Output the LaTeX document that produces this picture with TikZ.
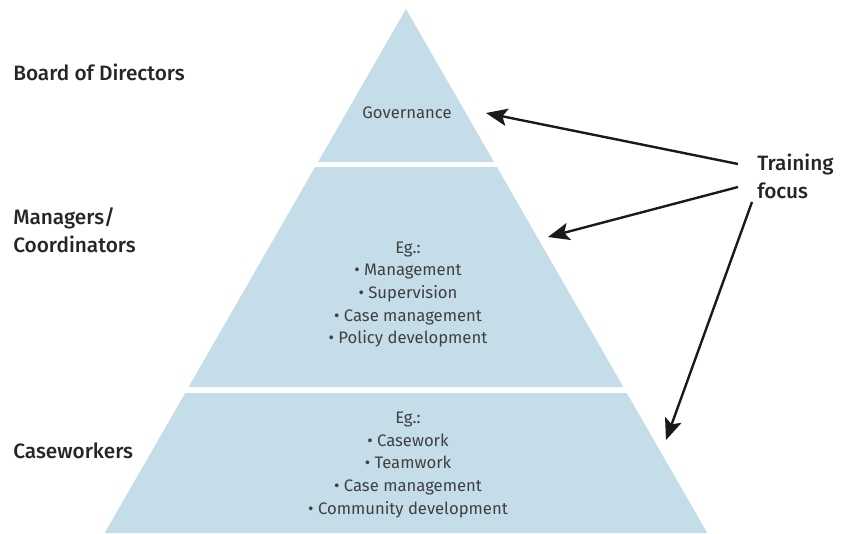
\documentclass[tikz,border=0pt]{standalone}
\usepackage{fontspec}
\setmainfont{Fira Sans}
\newfontfamily\labelfont{Fira Sans Medium}
\usetikzlibrary{arrows.meta}
\definecolor{tierblue}{HTML}{C4DDE8}
\definecolor{inktext}{HTML}{404040}
\definecolor{inkarrow}{HTML}{1A1A1A}
\tikzset{>={Stealth[length=16pt,width=13pt,inset=3.5pt]}}

\begin{document}
\begin{tikzpicture}[x=0.75pt,y=-0.75pt,
    level/.style={font=\labelfont\fontsize{15.6}{21}\selectfont,text=black!85,anchor=west,align=left,inner sep=0pt},
    topic/.style={font=\fontsize{12.5}{17}\selectfont,text=inktext,align=center,inner sep=0pt},
    focus/.style={->,line width=1.8pt,draw=inkarrow}]
  \useasboundingbox (0,0) rectangle (847,533);
  % the three tiers
  \fill[tierblue] (406,9) -- (494,162) -- (318,162) -- cycle;
  \fill[tierblue] (315.1,167) -- (496.9,167) -- (623.4,387) -- (188.6,387) -- cycle;
  \fill[tierblue] (185.2,393) -- (626.8,393) -- (707.3,533) -- (104.7,533) -- cycle;
  \node[topic] (gov) at (407,113) {Governance};
  \node[topic] (mgrtasks) at (408,294.5) {Eg.:\\\textbullet\ Management\\\textbullet\ Supervision\\\textbullet\ Case management\\\textbullet\ Policy development};
  \node[topic] (cwtasks) at (408,465) {Eg.:\\\textbullet\ Casework\\\textbullet\ Teamwork\\\textbullet\ Case management\\\textbullet\ Community development};
  % levels on the left
  \node[level] (board) at (13,72) {Board of Directors};
  \node[level] (mgr) at (13,230) {Managers/\\Coordinators};
  \node[level] (cw) at (13,451) {Caseworkers};
  \node[level] (train) at (757,176) {Training\\focus};
  % arrows
  \coordinate (govtip) at (486,113);
  \coordinate (mgrtip) at (548,237);
  \coordinate (cwtip) at (666,440);
  \draw[focus] ([shift={(-19,-12)}]train.west) -- (govtip);
  \draw[focus] ([shift={(-19,11)}]train.west) -- (mgrtip);
  \draw[focus] ([shift={(-5,26)}]train.west) -- (cwtip);
\end{tikzpicture}
\end{document}
